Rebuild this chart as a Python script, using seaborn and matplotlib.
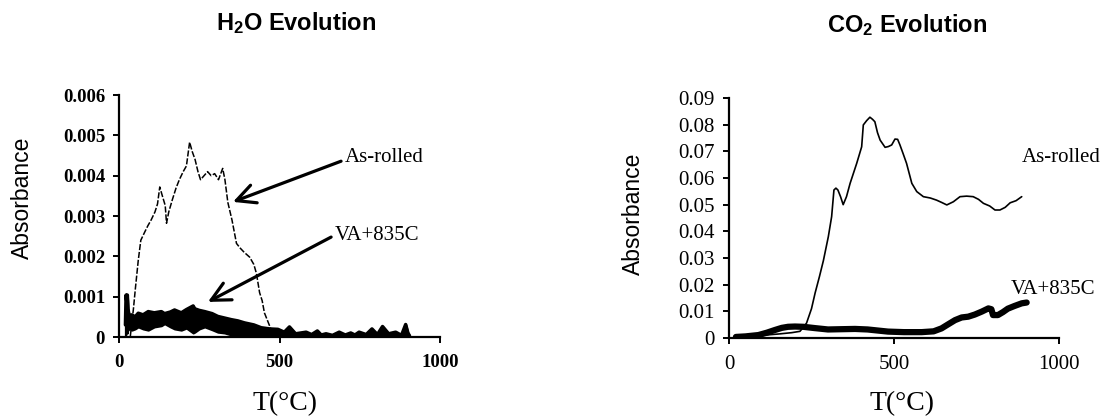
import numpy as np
import pandas as pd
import matplotlib
matplotlib.use("Agg")
import matplotlib.pyplot as plt
import seaborn as sns

# ---------------- data ----------------
# H2O evolution, As-rolled
h2o_ar_T = [35, 45, 51, 60, 68, 80, 90, 100, 112, 120, 127, 135, 144, 148, 155, 166, 178, 188, 200, 210,
            220, 228, 237, 246, 254, 265, 276, 287, 298, 310, 323, 330, 339, 352, 366, 378, 390, 407,
            420, 428, 438, 446, 453, 463, 473, 490, 505]
h2o_ar_A = [0.0, 0.0007, 0.0012, 0.0019, 0.0024, 0.0026, 0.00276, 0.0029, 0.0031, 0.0033, 0.00372, 0.0035,
            0.00326, 0.00282, 0.0031, 0.0034, 0.0037, 0.0039, 0.0041, 0.00424, 0.00483, 0.0046, 0.0044,
            0.0041, 0.0039, 0.004, 0.0041, 0.004, 0.00405, 0.0039, 0.00418, 0.0039, 0.00334, 0.0029,
            0.00232, 0.0022, 0.0021, 0.00198, 0.0018, 0.00158, 0.0011, 0.0009, 0.0006, 0.0004, 0.0002,
            0.0001, 0.00005]

# H2O evolution, VA+835C (noisy band: upper / lower envelope)
h2o_va_T = [20, 22, 24, 26, 28, 32, 40, 50, 60, 75, 91, 110, 132, 142, 160, 173, 194, 210, 231, 236, 250,
            267, 290, 308, 329, 350, 370, 391, 420, 443, 470, 495, 515, 531, 550, 583, 600, 618, 630, 645,
            665, 686, 705, 722, 735, 748, 770, 788, 805, 821, 840, 862, 880, 893, 900, 905]
h2o_va_hi = [0.0003, 0.00104, 0.0009, 0.00104, 0.0007, 0.0005, 0.00055, 0.0005, 0.00059, 0.00055, 0.00063,
             0.0006, 0.00063, 0.00058, 0.00062, 0.00067, 0.0006, 0.00068, 0.00077, 0.0007, 0.00066,
             0.00063, 0.00058, 0.00051, 0.00047, 0.00043, 0.0004, 0.00035, 0.0003, 0.00023, 0.0002,
             0.00019, 0.00012, 0.00025, 0.00008, 0.00012, 0.00006, 0.00015, 0.00005, 0.00008, 0.00004,
             0.00012, 0.00005, 0.0001, 0.00005, 0.00012, 0.00006, 0.0002, 0.00006, 0.00026, 0.00008,
             0.00012, 0.00004, 0.00031, 0.0001, 0.00003]
h2o_va_lo = [0.0, 0.0001, 0.0002, 0.0001, 0.0002, 0.0002, 0.00017, 0.0002, 0.00025, 0.0002, 0.00017,
             0.00025, 0.00028, 0.00033, 0.00025, 0.0002, 0.00017, 0.00022, 0.0001, 0.00012, 0.0002,
             0.00025, 0.00018, 0.00012, 0.0001, 0.00005, 0.00003, 0.0, 0.0, 0.0, 0.0, 0.0, 0.0, 0.0,
             0.0, 0.0, 0.0, 0.0, 0.0, 0.0, 0.0, 0.0, 0.0, 0.0, 0.0, 0.0, 0.0, 0.0, 0.0, 0.0, 0.0,
             0.0, 0.0, 0.0, 0.0, 0.0]

# CO2 evolution, As-rolled
co2_ar_T = [21, 60, 100, 150, 190, 215, 225, 235, 250, 261, 274, 286, 301, 311, 318, 324, 330, 338, 346,
            356, 367, 387, 402, 407, 417, 427, 435, 442, 450, 458, 473, 483, 493, 503, 511, 518, 528, 538,
            554, 569, 589, 610, 629, 645, 660, 680, 700, 720, 740, 756, 771, 790, 806, 821, 837, 852,
            870, 887]
co2_ar_A = [0.0004, 0.0006, 0.001, 0.0015, 0.002, 0.0025, 0.004, 0.0056, 0.011, 0.0169, 0.023, 0.029,
            0.038, 0.0455, 0.0555, 0.0562, 0.0555, 0.053, 0.050, 0.053, 0.058, 0.0655, 0.0717, 0.0799,
            0.0815, 0.0828, 0.082, 0.0811, 0.077, 0.0742, 0.0715, 0.0718, 0.0724, 0.0746, 0.0745, 0.0724,
            0.069, 0.0655, 0.058, 0.0549, 0.053, 0.0525, 0.0517, 0.0508, 0.0499, 0.0511, 0.053, 0.0532,
            0.053, 0.052, 0.0505, 0.0495, 0.048, 0.048, 0.049, 0.0507, 0.0515, 0.053]

# CO2 evolution, VA+835C
co2_va_T = [21, 50, 89, 115, 139, 160, 179, 200, 225, 261, 300, 340, 382, 420, 482, 530, 584, 620, 644, 665,
            685, 705, 725, 745, 766, 786, 795, 800, 815, 830, 845, 865, 887, 902]
co2_va_A = [0.0004, 0.0006, 0.0011, 0.002, 0.003, 0.0038, 0.0042, 0.0043, 0.0042, 0.0037, 0.0032, 0.0033,
            0.0034, 0.0032, 0.0024, 0.0022, 0.0022, 0.0025, 0.0036, 0.0052, 0.0067, 0.0077, 0.008, 0.0088,
            0.0099, 0.0111, 0.0108, 0.0086, 0.0086, 0.0097, 0.011, 0.012, 0.013, 0.0133]

xticks = [0, 500, 1000]
xtick_labels = ["0", "500", "1000"]
h2o_yticks = [0, 0.001, 0.002, 0.003, 0.004, 0.005, 0.006]
h2o_ytick_labels = ["0", "0.001", "0.002", "0.003", "0.004", "0.005", "0.006"]
co2_yticks = [0, 0.01, 0.02, 0.03, 0.04, 0.05, 0.06, 0.07, 0.08, 0.09]
co2_ytick_labels = ["0", "0.01", "0.02", "0.03", "0.04", "0.05", "0.06", "0.07", "0.08", "0.09"]

# ---------------- style ----------------
sns.set_theme(style="white")
plt.rcParams["font.family"] = ["Liberation Serif", "DejaVu Serif"]
plt.rcParams["text.color"] = "black"
plt.rcParams["axes.labelcolor"] = "black"
plt.rcParams["xtick.color"] = "black"
plt.rcParams["ytick.color"] = "black"
plt.rcParams["mathtext.fontset"] = "custom"
plt.rcParams["mathtext.rm"] = "Liberation Sans:bold"
plt.rcParams["mathtext.bf"] = "Liberation Sans:bold"
plt.rcParams["mathtext.it"] = "Liberation Sans:bold"

fig = plt.figure(figsize=(11, 4.18), dpi=100)
ax1 = fig.add_axes([119 / 1100, 1 - 337 / 418, 321 / 1100, 242 / 418])
ax2 = fig.add_axes([729 / 1100, 1 - 338 / 418, 330 / 1100, 240 / 418])

# ---- H2O panel ----
df_h2o_ar = pd.DataFrame({"T": h2o_ar_T, "A": h2o_ar_A})
sns.lineplot(data=df_h2o_ar, x="T", y="A", ax=ax1, color="black", lw=1.1,
             linestyle=(0, (4, 1.2)), estimator=None, sort=False)
ax1.fill_between(h2o_va_T, h2o_va_lo, h2o_va_hi, color="black", lw=1.5, edgecolor="black")
df_h2o_va = pd.DataFrame({"T": h2o_va_T, "A": h2o_va_hi})
sns.lineplot(data=df_h2o_va, x="T", y="A", ax=ax1, color="black", lw=2.5, estimator=None, sort=False)

ax1.set_xlim(0, 1000)
ax1.set_ylim(0, 0.006)
ax1.set_xticks(xticks)
ax1.set_xticklabels(xtick_labels)
ax1.set_yticks(h2o_yticks)
ax1.set_yticklabels(h2o_ytick_labels)
for lab in ax1.get_xticklabels() + ax1.get_yticklabels():
    lab.set_fontweight("bold")
    lab.set_fontsize(13.5)

ax1.annotate("As-rolled", xy=(355, 0.00335), xytext=(702, 0.00446), fontsize=15,
             va="center", ha="left",
             arrowprops=dict(arrowstyle="->,head_length=0.9,head_width=0.45", lw=2.3,
                             color="black", shrinkA=0, shrinkB=0, relpos=(0, 0.35)))
ax1.annotate("VA+835C", xy=(277, 0.00087), xytext=(671, 0.00252), fontsize=15,
             va="center", ha="left",
             arrowprops=dict(arrowstyle="->,head_length=0.9,head_width=0.45", lw=2.3,
                             color="black", shrinkA=0, shrinkB=0, relpos=(0, 0.5)))

# ---- CO2 panel ----
df_co2_ar = pd.DataFrame({"T": co2_ar_T, "A": co2_ar_A})
sns.lineplot(data=df_co2_ar, x="T", y="A", ax=ax2, color="black", lw=1.2, estimator=None, sort=False)
df_co2_va = pd.DataFrame({"T": co2_va_T, "A": co2_va_A})
sns.lineplot(data=df_co2_va, x="T", y="A", ax=ax2, color="black", lw=4.5, estimator=None, sort=False)

ax2.set_xlim(0, 1000)
ax2.set_ylim(0, 0.09)
ax2.set_xticks(xticks)
ax2.set_xticklabels(xtick_labels)
ax2.set_yticks(co2_yticks)
ax2.set_yticklabels(co2_ytick_labels)
for lab in ax2.get_xticklabels() + ax2.get_yticklabels():
    lab.set_fontsize(15)

ax2.text(888, 0.0675, "As-rolled", fontsize=15, ha="left", va="center")
ax2.text(855, 0.018, "VA+835C", fontsize=15, ha="left", va="center")

# ---- common axis styling ----
for ax, lx, ly, xx, xy in [(ax1, -0.302, 0.574, 0.517, -0.277), (ax2, -0.291, 0.517, 0.524, -0.275)]:
    sns.despine(ax=ax)
    for s in ["left", "bottom"]:
        ax.spines[s].set_linewidth(1.6)
        ax.spines[s].set_color("black")
    ax.tick_params(axis="both", direction="out", length=4, width=1.4, color="black",
                   left=True, bottom=True, labelcolor="black")
    ax.tick_params(axis="x", pad=8)
    ax.tick_params(axis="y", pad=6)
    ax.set_ylabel("Absorbance", fontsize=16.5, family=["Liberation Sans", "DejaVu Sans"],
                  color="black", va="center", ha="center")
    ax.yaxis.set_label_coords(lx, ly)
    ax.set_xlabel("T(°C)", fontsize=20, color="black", va="center", ha="center")
    ax.xaxis.set_label_coords(xx, xy)
    ax.grid(False)

fig.text(296 / 1100, 1 - 23 / 418, r"H$_2$O Evolution", fontsize=17, fontweight="bold",
         family=["Liberation Sans", "DejaVu Sans"], ha="center", va="center", color="black")
fig.text(907 / 1100, 1 - 25 / 418, r"CO$_2$ Evolution", fontsize=17, fontweight="bold",
         family=["Liberation Sans", "DejaVu Sans"], ha="center", va="center", color="black")

fig.savefig("out.png", dpi=100, facecolor="white")
